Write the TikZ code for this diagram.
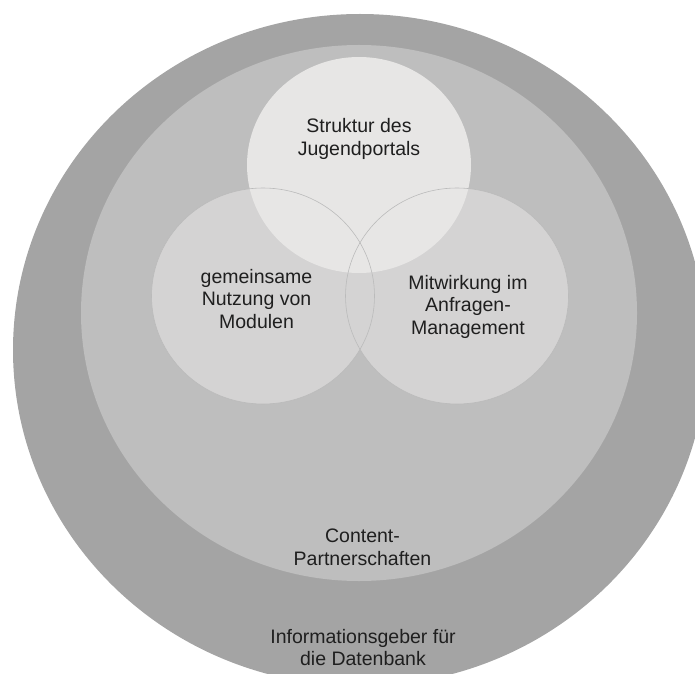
\documentclass[tikz,border=0pt]{standalone}
\usepackage{fontspec}
\setmainfont{Liberation Sans}
\definecolor{ringdark}{HTML}{A4A4A4}
\definecolor{ringlight}{HTML}{BEBEBE}
\definecolor{sidefill}{HTML}{D4D3D3}
\definecolor{topfill}{HTML}{E7E6E5}
\definecolor{sideline}{HTML}{BBBBBB}

\begin{document}
\begin{tikzpicture}[x=1pt,y=1pt,
		txt/.style={align=center, text=black!88, font=\fontsize{19.5}{22.5}\selectfont},
		side/.style={x radius=111.5, y radius=108}]
	\useasboundingbox (0,0) rectangle (695,673);
	\clip (0,0) rectangle (695,673);
	\fill[ringdark] (360,323) ellipse [x radius=347, y radius=336];
	\fill[ringlight] (359,360) ellipse [x radius=278, y radius=268];
	\foreach \x in {263,457}
		\fill[sidefill] (\x,377) ellipse [side];
	\fill[topfill] (359,508) ellipse [x radius=112, y radius=108];
	\foreach \x in {263,457}
		\draw[sideline, line width=0.6pt] (\x,377) ellipse [side];
	\node[txt] (struktur) at (359,533.8) {Struktur des\\Jugendportals};
	\node[txt] (module) at (256.5,374.4) {gemeinsame\\Nutzung von\\Modulen};
	\node[txt] (anfragen) at (468,366.5) {Mitwirkung im\\Anfragen-\\Management};
	\node[txt] (content) at (362.5,125.7) {Content-\\Partnerschaften};
	\node[txt] (datenbank) at (363,25.7) {Informationsgeber für\\die Datenbank};
\end{tikzpicture}
\end{document}
